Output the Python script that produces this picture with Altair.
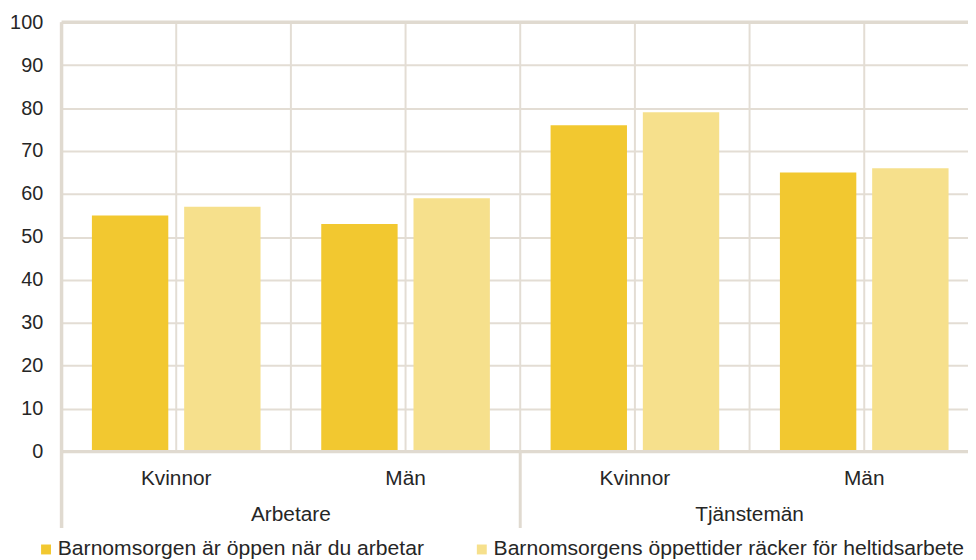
import altair as alt
import pandas as pd

# ---- data ----
groups = ["Arbetare", "Arbetare", "Tjänstemän", "Tjänstemän"]
subs = ["Kvinnor", "Män", "Kvinnor", "Män"]
series_names = [
    "Barnomsorgen är öppen när du arbetar",
    "Barnomsorgens öppettider räcker för heltidsarbete",
]
values_open = [55, 53, 76, 65]
values_hours = [57, 59, 79, 66]
y_ticks = [0, 10, 20, 30, 40, 50, 60, 70, 80, 90, 100]

colors = ["#F2C830", "#F6E08C"]
grid_col = "#E3DDD4"
axis_col = "#E0DAD0"
text_col = "#262626"
FONT = "Liberation Sans"

keys = [f"{g}|{s}" for g, s in zip(groups, subs)]

rows = []
for k, g, s, a, b in zip(keys, groups, subs, values_open, values_hours):
    rows.append({"key": k, "group": g, "sub": s, "series": series_names[0], "value": a})
    rows.append({"key": k, "group": g, "sub": s, "series": series_names[1], "value": b})
df = pd.DataFrame(rows)
df_keys = pd.DataFrame({"key": keys})

# group label positioned at the boundary between its two subcategories
grp_names = []
grp_start = []
grp_mid = []
for g in dict.fromkeys(groups):
    ks = [k for k, gg in zip(keys, groups) if gg == g]
    grp_names.append(g)
    grp_start.append(ks[0])
    grp_mid.append(ks[1])
df_groups = pd.DataFrame({"group": grp_names, "start": grp_start, "mid": grp_mid})

PLOT_W = 914
PLOT_H = 433
FULL_RANGE = 925

xscale = alt.Scale(domain=keys, range=[0, FULL_RANGE], paddingInner=0, paddingOuter=0)
xaxis = alt.Axis(
    title=None,
    labelExpr="split(datum.label, '|')[1]",
    ticks=False,
    tickSize=0,
    domain=False,
    grid=False,
    labelFontSize=21,
    labelFont=FONT,
    labelColor=text_col,
    labelBaseline="alphabetic",
    labelPadding=33,
    labelAngle=0,
)
yscale = alt.Scale(domain=[0, 100], nice=False, zero=True)
yaxis = alt.Axis(
    title=None,
    values=y_ticks,
    ticks=False,
    tickSize=0,
    domain=False,
    grid=True,
    gridColor=grid_col,
    gridWidth=2,
    labelFontSize=20,
    labelFont=FONT,
    labelColor=text_col,
    labelPadding=19,
)


def X(field, bp=None):
    if bp is None:
        return alt.X(f"{field}:N", scale=xscale, axis=xaxis, title=None)
    return alt.X(f"{field}:N", scale=xscale, axis=xaxis, title=None, bandPosition=bp)


vgrid_center = alt.Chart(df_keys).mark_rule(color=grid_col, strokeWidth=2).encode(x=X("key", 0.5))
vgrid_edge = alt.Chart(df_keys).mark_rule(color=grid_col, strokeWidth=2).encode(x=X("key", 0))

bars = alt.Chart(df).mark_bar().encode(
    x=X("key"),
    xOffset=alt.XOffset(
        "series:N",
        scale=alt.Scale(domain=series_names, paddingInner=0.172, paddingOuter=0.329),
    ),
    y=alt.Y("value:Q", scale=yscale, axis=yaxis, title=None),
    color=alt.Color(
        "series:N",
        scale=alt.Scale(domain=series_names, range=colors),
        legend=alt.Legend(
            title=None,
            orient="none",
            legendX=-26.3,
            legendY=521,
            direction="horizontal",
            columns=2,
            symbolType="square",
            symbolSize=100,
            symbolStrokeWidth=0,
            labelFontSize=21.3,
            labelFont=FONT,
            labelColor=text_col,
            labelOffset=1.2,
            columnPadding=47.4,
            labelLimit=800,
            padding=0,
        ),
    ),
)

one = pd.DataFrame({"k": [0]})
zero_line = alt.Chart(one).mark_rule(color=axis_col, strokeWidth=3.5).encode(
    y=alt.datum(0, scale=yscale), x=alt.value(0), x2=alt.value(PLOT_W)
)
top_line = alt.Chart(one).mark_rule(color=axis_col, strokeWidth=3.5).encode(
    y=alt.datum(100, scale=yscale), x=alt.value(0), x2=alt.value(PLOT_W)
)
left_line = alt.Chart(one).mark_rule(color=axis_col, strokeWidth=3.5).encode(
    x=alt.value(0), y=alt.value(0), y2=alt.value(510)
)
group_sep = alt.Chart(df_groups).mark_rule(color=axis_col, strokeWidth=3).encode(
    x=X("start", 0), y=alt.value(PLOT_H), y2=alt.value(510)
)
group_text = alt.Chart(df_groups).mark_text(
    fontSize=21, font=FONT, color=text_col, baseline="alphabetic", align="center"
).encode(x=X("mid", 0), y=alt.value(503), text="group:N")

chart = (
    alt.layer(vgrid_center, vgrid_edge, bars, zero_line, top_line, left_line, group_sep, group_text)
    .properties(
        width=PLOT_W,
        height=PLOT_H,
        autosize=alt.AutoSizeParams(type="none"),
        padding={"left": 54, "top": 12, "right": 0, "bottom": 109},
        background="white",
    )
    .configure_view(stroke=None)
)

chart.save("out.html", embed_options={"renderer": "svg", "actions": False})
